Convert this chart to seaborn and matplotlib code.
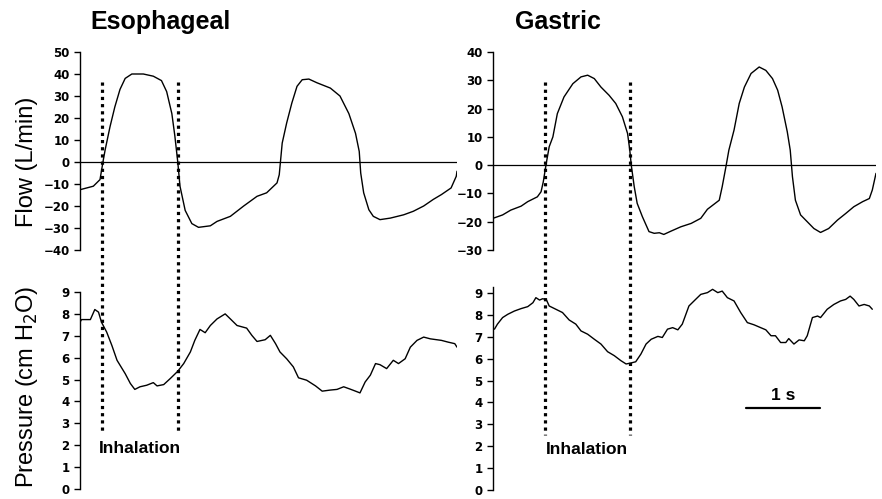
#!/usr/bin/env python3

import matplotlib
matplotlib.use("Agg")
import matplotlib.pyplot as plt
from matplotlib.lines import Line2D
import seaborn as sns

# Esophageal flow (time in s, flow in L/min)
eso_flow_t = [0.00, 0.18, 0.27, 0.315, 0.34, 0.405, 0.47, 0.54, 0.61, 0.70, 0.855, 0.99,
              1.10, 1.17, 1.24, 1.28, 1.32, 1.35, 1.42, 1.51, 1.60, 1.76, 1.85, 2.03,
              2.21, 2.39, 2.52, 2.66, 2.69, 2.73, 2.79, 2.86, 2.93, 3.00, 3.09, 3.20,
              3.38, 3.51, 3.63, 3.72, 3.77, 3.79, 3.83, 3.90, 3.96, 4.05, 4.19, 4.37,
              4.50, 4.64, 4.77, 4.88, 5.01, 5.08, 5.09]
eso_flow = [-12.6, -11.0, -8.0, 1.0, 5.6, 16.0, 25.0, 33.0, 38.0, 40.0, 40.0, 39.0,
            37.0, 32.0, 22.0, 12.0, 0.0, -11.0, -22.0, -28.0, -29.7, -29.0, -27.0, -24.7,
            -20.0, -15.6, -14.0, -9.5, -5.8, 8.6, 17.7, 26.8, 34.4, 37.4, 37.7, 36.0,
            33.6, 30.0, 22.0, 13.0, 4.8, -5.0, -14.0, -21.7, -24.7, -26.2, -25.5, -24.0,
            -22.4, -20.0, -17.0, -14.8, -11.8, -6.5, -4.2]

# Esophageal pressure (cm H2O)
eso_pres_t = [0.00, 0.02, 0.14, 0.20, 0.25, 0.29, 0.36, 0.43, 0.50, 0.61, 0.68, 0.74,
              0.81, 0.90, 0.99, 1.04, 1.13, 1.22, 1.32, 1.40, 1.49, 1.55, 1.62, 1.69,
              1.76, 1.85, 1.96, 2.03, 2.12, 2.25, 2.32, 2.39, 2.50, 2.57, 2.64, 2.70,
              2.79, 2.88, 2.95, 3.06, 3.18, 3.27, 3.38, 3.47, 3.56, 3.65, 3.72, 3.78,
              3.85, 3.92, 3.99, 4.05, 4.14, 4.23, 4.30, 4.39, 4.46, 4.55, 4.64, 4.73,
              4.88, 4.97, 5.06, 5.09]
eso_pres = [7.62, 7.74, 7.74, 8.20, 8.08, 7.62, 7.17, 6.56, 5.88, 5.27, 4.82, 4.55,
            4.67, 4.74, 4.86, 4.71, 4.77, 5.05, 5.38, 5.73, 6.26, 6.79, 7.29, 7.14,
            7.47, 7.77, 8.00, 7.77, 7.47, 7.35, 7.02, 6.74, 6.82, 7.02, 6.64, 6.26,
            5.95, 5.58, 5.08, 4.97, 4.71, 4.47, 4.52, 4.55, 4.67, 4.56, 4.47, 4.39,
            4.89, 5.20, 5.73, 5.68, 5.50, 5.88, 5.73, 5.95, 6.48, 6.79, 6.94, 6.86,
            6.79, 6.71, 6.64, 6.48]

# Gastric flow
gas_flow_t = [0.00, 0.13, 0.24, 0.38, 0.47, 0.60, 0.65, 0.68, 0.72, 0.76, 0.81, 0.87,
              0.96, 1.08, 1.19, 1.28, 1.37, 1.46, 1.57, 1.66, 1.75, 1.82, 1.85, 1.87,
              1.91, 1.95, 2.02, 2.11, 2.18, 2.25, 2.31, 2.41, 2.54, 2.68, 2.81, 2.90,
              3.06, 3.10, 3.15, 3.19, 3.26, 3.33, 3.40, 3.49, 3.60, 3.69, 3.78, 3.85,
              3.91, 3.98, 4.02, 4.05, 4.09, 4.16, 4.25, 4.34, 4.43, 4.54, 4.66, 4.77,
              4.88, 5.00, 5.09, 5.13, 5.18]
gas_flow = [-18.8, -17.6, -15.9, -14.5, -12.9, -11.2, -9.4, -5.9, 0.6, 6.5, 10.0, 18.2,
            24.1, 28.8, 31.2, 31.8, 30.6, 27.6, 24.7, 21.8, 17.1, 11.2, 5.3, 0.0,
            -7.6, -13.5, -18.2, -23.5, -24.1, -23.9, -24.5, -23.3, -21.8, -20.6, -18.8, -15.6,
            -12.4, -7.6, -0.6, 5.3, 12.4, 21.8, 27.6, 32.4, 34.7, 33.5, 30.6, 26.5,
            20.6, 11.8, 5.3, -4.1, -12.4, -17.6, -20.0, -22.4, -23.8, -22.4, -19.4, -17.1,
            -14.7, -12.9, -11.8, -8.8, -2.9]

# Gastric pressure
gas_pres_t = [0.02, 0.06, 0.13, 0.20, 0.29, 0.38, 0.47, 0.54, 0.58, 0.63, 0.67, 0.72,
              0.76, 0.85, 0.94, 1.03, 1.12, 1.19, 1.28, 1.37, 1.46, 1.55, 1.64, 1.73,
              1.80, 1.86, 1.93, 2.00, 2.07, 2.14, 2.23, 2.29, 2.36, 2.43, 2.50, 2.56,
              2.65, 2.74, 2.81, 2.90, 2.97, 3.04, 3.10, 3.17, 3.26, 3.35, 3.44, 3.53,
              3.62, 3.69, 3.76, 3.82, 3.89, 3.96, 4.00, 4.07, 4.14, 4.21, 4.25, 4.32,
              4.39, 4.43, 4.52, 4.61, 4.70, 4.77, 4.83, 4.88, 4.95, 5.02, 5.09, 5.13]
gas_pres = [7.35, 7.58, 7.88, 8.03, 8.18, 8.29, 8.38, 8.56, 8.79, 8.68, 8.74, 8.71,
            8.41, 8.26, 8.11, 7.77, 7.58, 7.27, 7.12, 6.89, 6.67, 6.32, 6.14, 5.91,
            5.76, 5.80, 5.86, 6.21, 6.67, 6.89, 7.02, 6.97, 7.35, 7.42, 7.32, 7.58,
            8.41, 8.71, 8.94, 9.02, 9.17, 9.02, 9.09, 8.79, 8.64, 8.11, 7.65, 7.55,
            7.42, 7.32, 7.05, 7.05, 6.74, 6.74, 6.92, 6.67, 6.86, 6.82, 7.05, 7.88,
            7.95, 7.88, 8.26, 8.48, 8.64, 8.71, 8.86, 8.71, 8.41, 8.48, 8.41, 8.26]

# Inhalation markers (s)
eso_inhalation = [0.30, 1.32]
gas_inhalation = [0.70, 1.85]

flow_ticks_eso = [-40, -30, -20, -10, 0, 10, 20, 30, 40, 50]
flow_ticks_gas = [-30, -20, -10, 0, 10, 20, 30, 40]
pres_ticks = list(range(0, 10))

sns.set_style("white")
plt.rcParams["font.family"] = ["Liberation Sans", "DejaVu Sans"]
plt.rcParams["text.color"] = "black"
plt.rcParams["axes.labelcolor"] = "black"
plt.rcParams["ytick.color"] = "black"

fig = plt.figure(figsize=(8.82, 4.99), dpi=100)
W, H = 882, 499


def box(x0, ytop, w, h):
    return [x0 / W, (H - ytop - h) / H, w / W, h / H]


ax_ef = fig.add_axes(box(80, 52, 377, 198))
ax_ep = fig.add_axes(box(80, 292, 377, 197))
ax_gf = fig.add_axes(box(493, 52, 383, 198))
ax_gp = fig.add_axes(box(493, 286.5, 383, 203.5))


def style_axis(ax, ticks):
    for side in ["top", "right", "bottom"]:
        ax.spines[side].set_visible(False)
    ax.spines["left"].set_linewidth(1.0)
    ax.spines["left"].set_color("black")
    ax.set_xticks([])
    ax.set_yticks(ticks)
    ax.tick_params(axis="y", direction="out", length=4.5, width=1.0, pad=3,
                   left=True, colors="black")
    for lab in ax.get_yticklabels():
        lab.set_fontfamily("DejaVu Sans")
        lab.set_fontweight("bold")
        lab.set_fontsize(8.5)
        lab.set_color("black")
    ax.set_xlabel("")
    ax.set_ylabel("")
    ax.patch.set_alpha(0)


sns.lineplot(x=eso_flow_t, y=eso_flow, ax=ax_ef, color="black", lw=1.0)
sns.lineplot(x=eso_pres_t, y=eso_pres, ax=ax_ep, color="black", lw=1.0)
sns.lineplot(x=gas_flow_t, y=gas_flow, ax=ax_gf, color="black", lw=1.0)
sns.lineplot(x=gas_pres_t, y=gas_pres, ax=ax_gp, color="black", lw=1.0)

ax_ef.axhline(0, color="black", lw=0.9)
ax_gf.axhline(0, color="black", lw=0.9)

ax_ef.set_xlim(0, 5.09)
ax_ep.set_xlim(0, 5.09)
ax_gf.set_xlim(0, 5.18)
ax_gp.set_xlim(0, 5.18)
ax_ef.set_ylim(-40, 50)
ax_gf.set_ylim(-30, 40)
ax_ep.set_ylim(0, 9)
ax_gp.set_ylim(0, 9.3)

style_axis(ax_ef, flow_ticks_eso)
style_axis(ax_gf, flow_ticks_gas)
style_axis(ax_ep, pres_ticks)
style_axis(ax_gp, pres_ticks)


def inhalation_marker(t, ax_top, y_top, ax_bot, y_bot):
    """Dotted vertical line running from the flow panel into the pressure panel."""
    to_fig = fig.transFigure.inverted()
    x0, y0 = to_fig.transform(ax_top.transData.transform((t, y_top)))
    x1, y1 = to_fig.transform(ax_bot.transData.transform((t, y_bot)))
    line = Line2D([x0, x1], [y0, y1], transform=fig.transFigure, color="black",
                  lw=2.3, linestyle=(0, (1.0, 1.25)), dash_capstyle="butt")
    fig.add_artist(line)


for t in eso_inhalation:
    inhalation_marker(t, ax_ef, 36.4, ax_ep, 2.5)
for t in gas_inhalation:
    inhalation_marker(t, ax_gf, 29.3, ax_gp, 2.5)

ax_ep.text(sum(eso_inhalation) / 2, 1.86, "Inhalation", ha="center", va="center",
           fontsize=12.5, fontweight="bold")
ax_gp.text(sum(gas_inhalation) / 2 - 0.01, 1.86, "Inhalation", ha="center", va="center",
           fontsize=12.5, fontweight="bold")

# 1 s scale bar
ax_gp.plot([3.42, 4.42], [3.73, 3.73], color="black", lw=1.6)
ax_gp.text(3.92, 4.3, "1 s", ha="center", va="center", fontsize=12.5, fontweight="bold")

fig.text(160 / W, 1 - 22 / H, "Esophageal", ha="center", va="center",
         fontsize=18, fontweight="bold")
fig.text(558 / W, 1 - 22 / H, "Gastric", ha="center", va="center",
         fontsize=18, fontweight="bold")
fig.text(27 / W, 1 - 162 / H, "Flow (L/min)", rotation=90, ha="center", va="center",
         fontsize=17)
fig.text(27 / W, 1 - 387 / H, "Pressure (cm H$_2$O)", rotation=90, ha="center",
         va="center", fontsize=17)

fig.savefig("out.png", dpi=100)
